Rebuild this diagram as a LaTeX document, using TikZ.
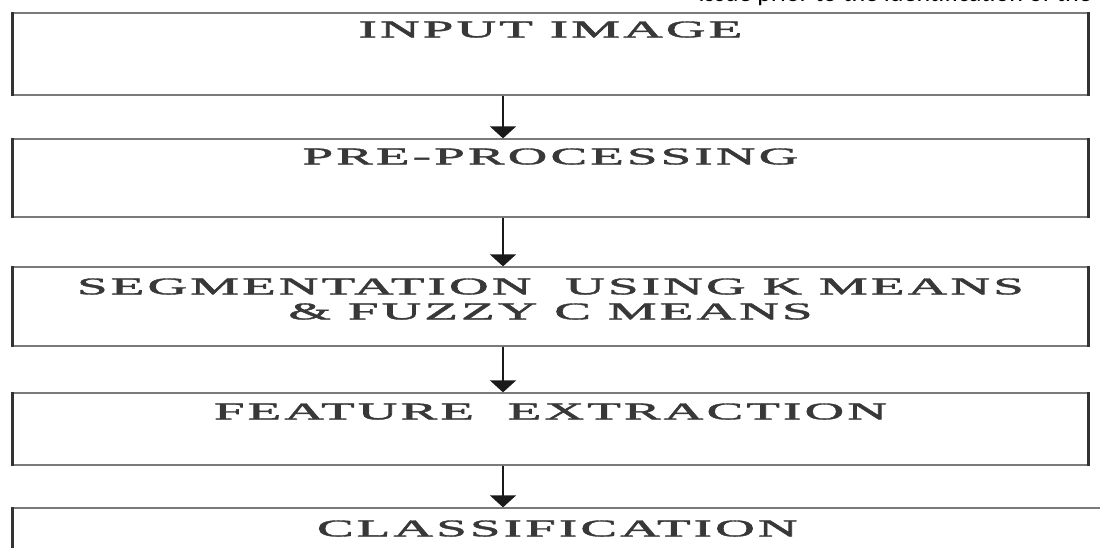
\documentclass[tikz,border=0pt]{standalone}
\usepackage{graphicx}
\usepackage{fontspec}
\setmainfont{Liberation Serif}
\newfontfamily\pagefont{Carlito}
\newfontfamily\boxfont[LetterSpace=6,FakeBold=1.5]{Liberation Serif}
\usetikzlibrary{calc,positioning,arrows.meta}
\definecolor{boxgray}{HTML}{7A7A7A}
\definecolor{sidegray}{HTML}{333333}
\definecolor{textgray}{HTML}{383838}
\definecolor{arrowblack}{HTML}{1A1A1A}
\newcommand{\wide}[1]{\scalebox{2.28}[1]{#1}}

\begin{document}
\begin{tikzpicture}[x=1pt,y=1pt,
  stepbox/.style={draw=boxgray,fill=none,line width=1.3pt,minimum width=1075pt,inner sep=0pt},
  steptext/.style={draw=none,fill=none,anchor=base,align=center,text=textgray,inner sep=0pt,
    font=\boxfont\fontsize{24}{25}\selectfont},
  side/.style={draw=sidegray,line width=2.6pt},
  flow/.style={-{Triangle[width=26pt,length=12pt]},draw=arrowblack,fill=arrowblack,line width=2pt}]
  \useasboundingbox (0,0) rectangle (1100,-547);

  % Page text cut off at the top
  \node[draw=none,fill=none,anchor=base east,inner sep=0pt,font=\pagefont\fontsize{26}{30}\selectfont] (pagetext) at (1092,-1.5) {issue prior to the identification of the};

  % Input image
  \node[stepbox,minimum height=82pt] (input) at (550.5,-54) {};
  \draw[side] (input.north west) -- (input.south west);
  \draw[side] (input.north east) -- (input.south east);
  \node[steptext] (inputtext) at ($(input.north)+(0,-25)$) {\wide{INPUT IMAGE}};

  % Pre-processing
  \node[stepbox,minimum height=78pt] (pre) at (550.5,-178) {};
  \draw[side] (pre.north west) -- (pre.south west);
  \draw[side] (pre.north east) -- (pre.south east);
  \node[steptext] (pretext) at ($(pre.north)+(0,-26)$) {\wide{PRE-PROCESSING}};

  % Segmentation
  \node[stepbox,minimum height=79pt] (seg) at (550.5,-306.5) {};
  \draw[side] (seg.north west) -- (seg.south west);
  \draw[side] (seg.north east) -- (seg.south east);
  \node[steptext] (segtext) at ($(seg.north)+(0,-53)$) {\wide{SEGMENTATION\ \ USING K MEANS}\\\wide{\& FUZZY C MEANS}};

  % Feature extraction
  \node[stepbox,minimum height=72pt] (feat) at (550.5,-429) {};
  \draw[side] (feat.north west) -- (feat.south west);
  \draw[side] (feat.north east) -- (feat.south east);
  \node[steptext] (feattext) at ($(feat.north)+(0,-27)$) {\wide{FEATURE\ \ EXTRACTION}};

  % Classification (cut off at the bottom)
  \node[stepbox,minimum width=1100pt,minimum height=82pt] (cls) at (563,-549) {};
  \draw[side] (cls.north west) -- (cls.south west);
  \node[steptext] (clstext) at ($(cls.north west)+(545,-29)$) {\wide{CLASSIFICATION}};

  % Arrows
  \coordinate (ax) at (503,0);
  \draw[flow] (input.south -| ax) -- (pre.north -| ax);
  \draw[flow] (pre.south -| ax) -- (seg.north -| ax);
  \draw[flow] (seg.south -| ax) -- (feat.north -| ax);
  \draw[flow] (feat.south -| ax) -- (cls.north -| ax);

\end{tikzpicture}
\end{document}
